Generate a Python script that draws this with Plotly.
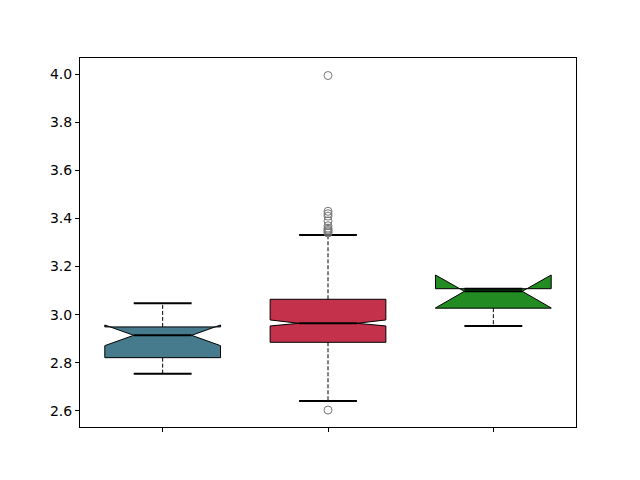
import plotly.graph_objects as go

# Summary statistics per group
positions = [1, 2, 3]
q1 = [2.821, 2.885, 3.027]
medians = [2.914, 2.964, 3.097]
q3 = [2.949, 3.064, 3.108]
notch_lo = [2.871, 2.953, 3.028]
notch_hi = [2.957, 2.978, 3.165]
whisker_lo = [2.754, 2.641, 2.953]
whisker_hi = [3.047, 3.331, 3.108]
fliers = [
    [],
    [3.995, 3.43, 3.42, 3.41, 3.39, 3.37, 3.36, 3.355, 3.35, 3.345, 3.34, 2.603],
    [],
]
colors = ["#457b8c", "#c4314b", "#228b22"]

BOX_HALF = 0.35      # box width 0.7
NOTCH_HALF = 0.175   # notch narrows to half the box width
CAP_HALF = 0.175

fig = go.Figure()

for i, x in enumerate(positions):
    L, R = x - BOX_HALF, x + BOX_HALF
    nl, nr = x - NOTCH_HALF, x + NOTCH_HALF
    # matplotlib-style notched box path
    px = [L, L, nl, L, L, R, R, nr, R, R, L]
    py = [q1[i], notch_lo[i], medians[i], notch_hi[i], q3[i],
          q3[i], notch_hi[i], medians[i], notch_lo[i], q1[i], q1[i]]
    fig.add_trace(go.Scatter(
        x=px, y=py, mode="lines", fill="toself", fillcolor=colors[i],
        line=dict(color="black", width=1), hoverinfo="skip", showlegend=False,
    ))
    # whiskers
    for a, b in [(q1[i], whisker_lo[i]), (q3[i], whisker_hi[i])]:
        fig.add_trace(go.Scatter(
            x=[x, x], y=[a, b], mode="lines",
            line=dict(color="black", width=1, dash="4px,2px"),
            hoverinfo="skip", showlegend=False,
        ))
    # caps
    for w in [whisker_lo[i], whisker_hi[i]]:
        fig.add_trace(go.Scatter(
            x=[x - CAP_HALF, x + CAP_HALF], y=[w, w], mode="lines",
            line=dict(color="black", width=2),
            hoverinfo="skip", showlegend=False,
        ))
    # median
    fig.add_trace(go.Scatter(
        x=[nl, nr], y=[medians[i], medians[i]], mode="lines",
        line=dict(color="black", width=2),
        hoverinfo="skip", showlegend=False,
    ))
    # outliers
    if fliers[i]:
        fig.add_trace(go.Scatter(
            x=[x] * len(fliers[i]), y=fliers[i], mode="markers",
            marker=dict(symbol="circle-open", size=8, color="#777777",
                        line=dict(width=1)),
            hoverinfo="skip", showlegend=False,
        ))

axis_style = dict(showline=True, mirror=True, linecolor="black", linewidth=1,
                  ticks="outside", ticklen=4, tickcolor="black",
                  showgrid=False, zeroline=False,
                  tickfont=dict(family="DejaVu Sans", size=14, color="black"))

# page body adds ~8px offset, so margins are trimmed to match
fig.update_layout(
    width=640, height=480,
    margin=dict(l=72, r=72, t=50, b=61),
    paper_bgcolor="white", plot_bgcolor="white",
    xaxis=dict(range=[0.5, 3.5], tickvals=positions, ticktext=["", "", ""],
               **axis_style),
    yaxis=dict(range=[2.5325, 4.068],
               tickvals=[2.6, 2.8, 3.0, 3.2, 3.4, 3.6, 3.8, 4.0],
               tickformat=".1f", **axis_style),
)

fig.write_html("out.html")
